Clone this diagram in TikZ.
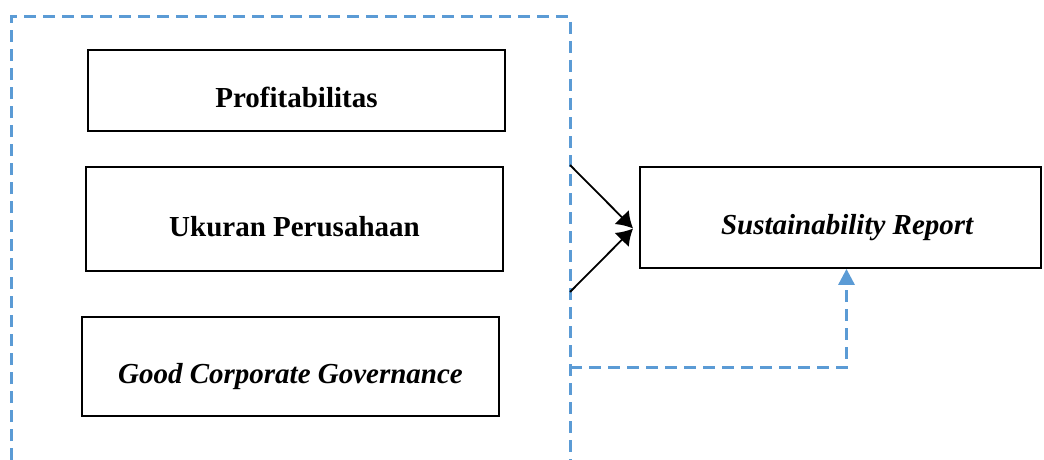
\documentclass[tikz,border=0pt]{standalone}
\usepackage{fontspec}
\setmainfont{Liberation Serif}
\usepackage{tikz}
\usetikzlibrary{arrows.meta}
\usetikzlibrary{calc}
\usetikzlibrary{positioning}

\definecolor{frameblue}{RGB}{91,155,213}
\newcommand{\vb}[1]{\textbf{#1}}
\newcommand{\vi}[1]{\textbf{\textit{#1}}}

\begin{document}
\begin{tikzpicture}[x=1pt, y=-1pt,
    varbox/.style={draw, line width=1.8pt, inner sep=0pt,
      text height=34pt, text depth=0pt,
      font=\fontsize{29}{34}\selectfont},
    frame/.style={frameblue, line width=3pt, dash pattern=on 12pt off 7pt},
    link/.style={line width=1.8pt, -{Latex[length=16pt, width=20pt]}}] % Kerangka

      \useasboundingbox (0, 0) rectangle (1044, 460);

      \node [varbox, minimum width=417pt, minimum height=81pt]
      (prof) at (296.5, 90.5) {\vb{Profitabilitas}};
      \node [varbox, minimum width=417pt, minimum height=104pt]
      (size) at (294.5, 219) {\vb{Ukuran Perusahaan}};
      \node [varbox, minimum width=417pt, minimum height=99pt]
      (gcg) at (290.5, 366.5) {\vi{Good Corporate Governance}};
      \node [varbox, minimum width=401pt, minimum height=101pt]
      (sr) at (840.5, 217.5) {\hspace*{14pt}\vi{Sustainability Report}};

      \coordinate (bl) at (11, 460);
      \coordinate (tr) at (570, 17);
      \coordinate (br) at (570, 460);
      \draw [frame] (bl) |- (tr) -- (br);

      \coordinate (up) at (570, 165);
      \coordinate (lo) at (570, 292);
      \coordinate (tip) at ($(sr.west) + (-6, 11)$);
      \draw [link] (up) -- (tip);
      \draw [link] (lo) -- (tip);

      \coordinate (mid) at (570, 367);
      \draw [frame, -{Triangle[length=16pt, width=16pt]}]
      (mid) -| ($(sr.south) + (6, 0)$);

    \end{tikzpicture}
\end{document}
